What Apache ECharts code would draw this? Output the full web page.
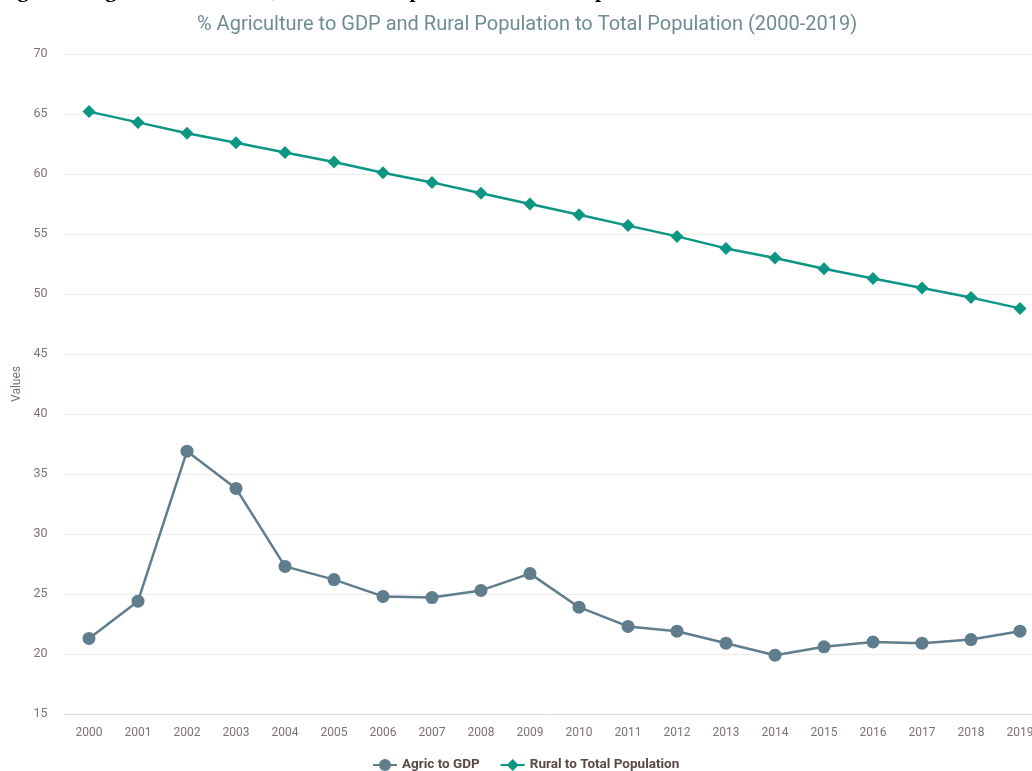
<!DOCTYPE html>
<html>
<head>
<meta charset="utf-8">
<script src="https://cdn.jsdelivr.net/npm/echarts@6/dist/echarts.min.js"></script>
<style>
  html, body { margin: 0; padding: 0; background: #ffffff; }
  #chart { width: 1032px; height: 771px; }
</style>
</head>
<body>
<div id="chart"></div>
<script>
// Years on the category axis
const years = ['2000','2001','2002','2003','2004','2005','2006','2007','2008','2009',
               '2010','2011','2012','2013','2014','2015','2016','2017','2018','2019'];

// Agriculture share of GDP (%)
const agricToGdp = [21.3, 24.4, 36.9, 33.8, 27.3, 26.2, 24.8, 24.7, 25.3, 26.7,
                    23.9, 22.3, 21.9, 20.9, 19.9, 20.6, 21.0, 20.9, 21.2, 21.9];

// Rural population share of total population (%)
const ruralToTotal = [65.2, 64.3, 63.4, 62.6, 61.8, 61.0, 60.1, 59.3, 58.4, 57.5,
                      56.6, 55.7, 54.8, 53.8, 53.0, 52.1, 51.3, 50.5, 49.7, 48.8];

// Value axis range
const yMin = 15, yMax = 70, yStep = 5;

const labelColor = '#7d7371';
const chart = echarts.init(document.getElementById('chart'), null, { renderer: 'canvas' });

chart.setOption({
  backgroundColor: '#ffffff',
  animation: false,
  title: {
    text: '% Agriculture to GDP and Rural Population to Total Population (2000-2019)',
    left: 192,
    top: 10,
    textStyle: {
      fontFamily: 'Roboto',
      fontWeight: 'normal',
      fontSize: 20,
      color: '#6f8c95'
    }
  },
  graphic: [{
    type: 'text',
    left: -2,
    top: -20,
    style: {
      text: 'Figure 1: Agriculture to GDP, and Rural Population to Total Population',
      font: 'bold 22px "Liberation Serif"',
      fill: '#000000'
    }
  }],
  legend: {
    bottom: -6,
    left: 367,
    itemGap: 20,
    itemWidth: 24,
    itemHeight: 15,
    textStyle: {
      fontFamily: 'Roboto',
      fontWeight: 'bold',
      fontSize: 13.5,
      color: '#5a4944'
    },
    data: ['Agric to GDP', 'Rural to Total Population']
  },
  grid: {
    left: 64.5,
    top: 54,
    width: 980,
    height: 660,
    containLabel: false,
    outerBoundsMode: 'none'
  },
  xAxis: {
    type: 'category',
    data: years,
    boundaryGap: true,
    axisTick: { show: false },
    axisLine: { lineStyle: { color: '#d6dce5', width: 1 } },
    axisLabel: {
      interval: 0,
      margin: 13,
      fontFamily: 'Roboto',
      fontSize: 12,
      color: labelColor
    }
  },
  yAxis: {
    type: 'value',
    min: yMin,
    max: yMax,
    interval: yStep,
    name: 'Values',
    nameLocation: 'middle',
    nameGap: 38,
    nameTextStyle: {
      fontFamily: 'Roboto',
      fontSize: 12,
      color: labelColor
    },
    axisLine: { show: false },
    axisTick: { show: false },
    axisLabel: {
      margin: 17,
      fontFamily: 'Roboto',
      fontSize: 12.5,
      color: labelColor
    },
    splitLine: { lineStyle: { color: '#ececec', width: 1 } }
  },
  series: [
    {
      name: 'Agric to GDP',
      type: 'line',
      data: agricToGdp,
      symbol: 'circle',
      symbolSize: 13,
      itemStyle: { color: '#5f7d8c' },
      lineStyle: { color: '#5f7d8c', width: 2.5 }
    },
    {
      name: 'Rural to Total Population',
      type: 'line',
      data: ruralToTotal,
      symbol: 'diamond',
      symbolSize: 13,
      itemStyle: { color: '#0c9684' },
      lineStyle: { color: '#0c9684', width: 2.5 }
    }
  ]
});
</script>
</body>
</html>
